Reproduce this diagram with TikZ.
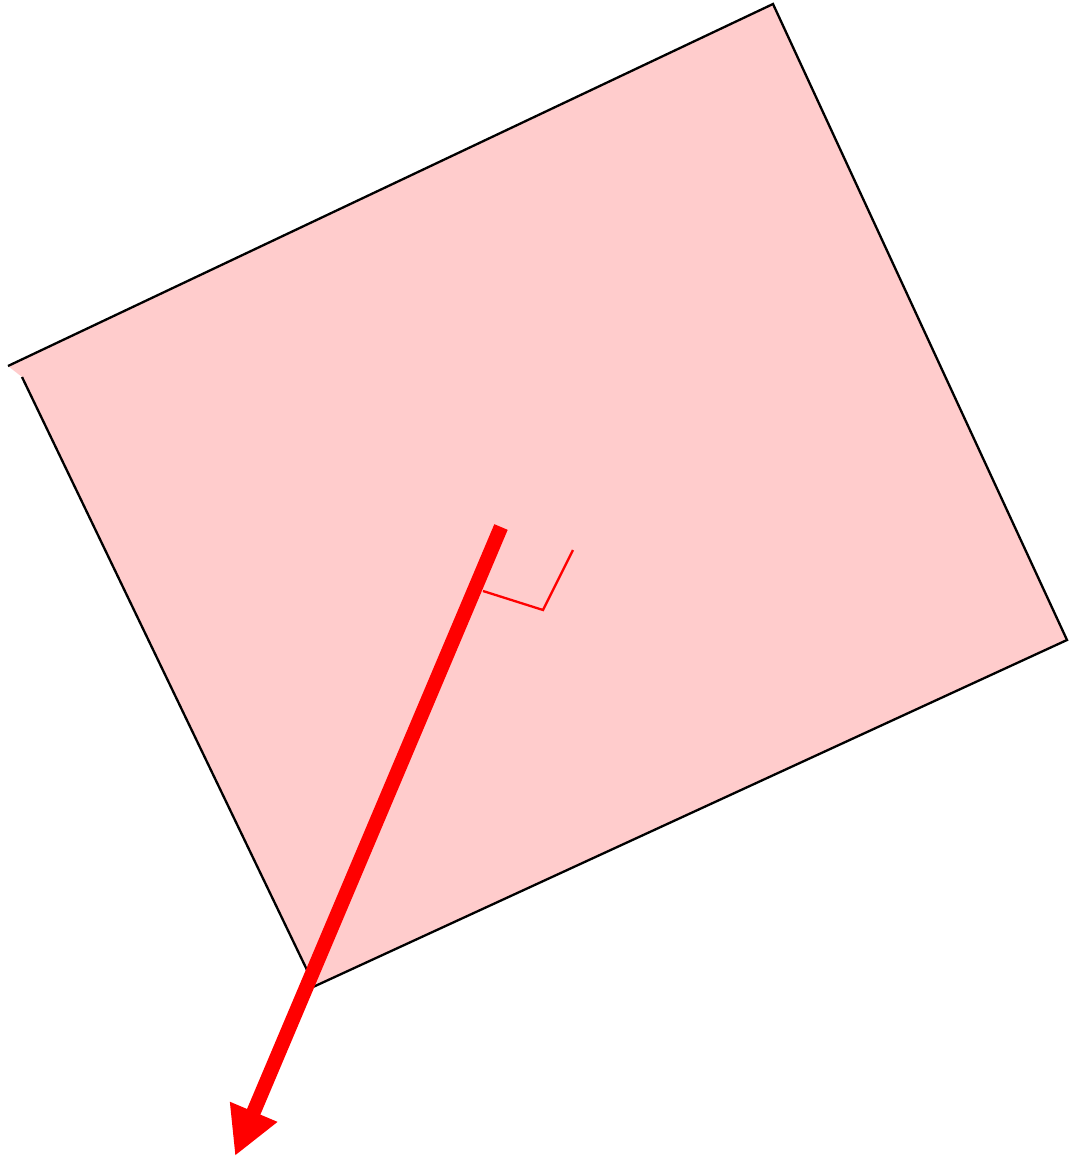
\documentclass[tikz,border=0pt]{standalone}
\usetikzlibrary{arrows.meta}
\begin{document}
\begin{tikzpicture}[x=1pt,y=-1pt,
  edge/.style={black,line width=2.3pt},
  normalvec/.style={red,line width=14.5pt,-{Triangle[length=48pt,width=48pt]}},
  rightmark/.style={red,line width=2.3pt}]
\useasboundingbox (0,0) rectangle (1077,1161);
\coordinate (TL) at (8,366);
\coordinate (TLb) at (22,377);
\coordinate (T) at (773,4);
\coordinate (R) at (1067,640);
\coordinate (B) at (313,987);
\coordinate (Bl) at (307,970);
\fill[red!20] (TL) -- (T) -- (R) -- (B) -- (Bl) -- (TLb) -- cycle;
\draw[edge,line join=miter] (TL) -- (T) -- (R) -- (B);
\draw[edge] (TLb) -- (Bl);
\coordinate (S) at (501,527);
\coordinate (E) at (235,1156);
\draw[normalvec] (S) -- (E);
\coordinate (M1) at (483,591);
\coordinate (M2) at (543,610);
\coordinate (M3) at (573,550);
\draw[rightmark] (M1) -- (M2) -- (M3);
\end{tikzpicture}
\end{document}
